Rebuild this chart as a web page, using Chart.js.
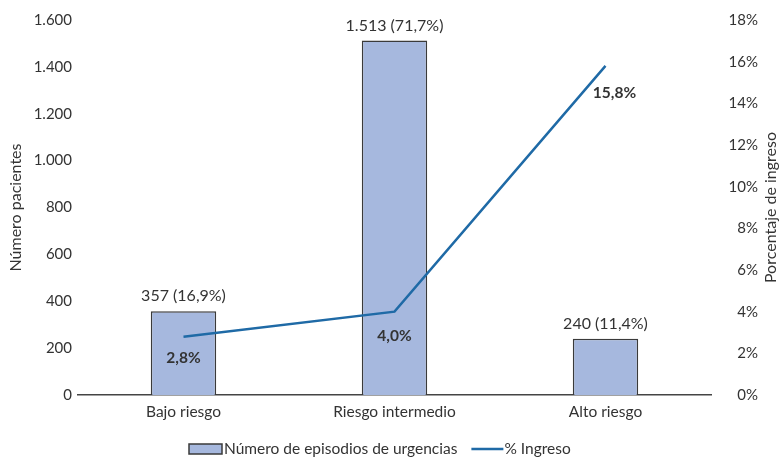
<!DOCTYPE html>
<html>
<head>
<meta charset="utf-8">
<script src="https://cdn.jsdelivr.net/npm/chart.js@4"></script>
<style>
  html, body { margin: 0; padding: 0; background: #fff; }
  #wrap { width: 781px; height: 457px; position: relative; }
</style>
</head>
<body>
<div id="wrap"><canvas id="chart"></canvas></div>
<script>
// Data
const categories = ['Bajo riesgo', 'Riesgo intermedio', 'Alto riesgo'];
const episodios = [357, 1513, 240];
const episodiosPct = ['16,9%', '71,7%', '11,4%'];
const ingresoPct = [2.8, 4.0, 15.8];
const barLabel = 'Número de episodios de urgencias';
const lineLabel = '% Ingreso';

const FONT = 'Lato, "Open Sans", sans-serif';
const TEXT = '#333333';
const BAR_FILL = '#a6b8de';
const BAR_EDGE = '#3a3a3a';
const LINE_COLOR = '#1f6aa6';

// format 1513 -> "1.513", 2.8 -> "2,8"
const fmtInt = (v) => String(Math.round(v)).replace(/\B(?=(\d{3})+(?!\d))/g, '.');
const fmtDec = (v) => v.toFixed(1).replace('.', ',');

// Draws value labels, rotated axis titles and the legend
const decorations = {
    id: 'decorations',
    afterDatasetsDraw(chart) {
        const ctx = chart.ctx;
        const area = chart.chartArea;
        ctx.save();
        ctx.fillStyle = TEXT;
        ctx.textAlign = 'center';
        ctx.textBaseline = 'middle';

        // bar labels
        ctx.font = '16px ' + FONT;
        chart.getDatasetMeta(0).data.forEach((bar, i) => {
            ctx.fillText(fmtInt(episodios[i]) + ' (' + episodiosPct[i] + ')', bar.x, bar.y - 15);
        });

        // line labels (bold, below the points)
        ctx.font = 'bold 15.5px ' + FONT;
        const offs = [[0, 21], [0, 24], [9, 27]];
        chart.getDatasetMeta(1).data.forEach((pt, i) => {
            ctx.fillText(fmtDec(ingresoPct[i]) + '%', pt.x + offs[i][0], pt.y + offs[i][1]);
        });

        // axis titles, both reading bottom to top
        ctx.font = '16px ' + FONT;
        const midY = (area.top + area.bottom) / 2;
        ctx.save();
        ctx.translate(16, midY);
        ctx.rotate(-Math.PI / 2);
        ctx.fillText('Número pacientes', 0, 0);
        ctx.restore();
        ctx.save();
        ctx.translate(771, midY);
        ctx.rotate(-Math.PI / 2);
        ctx.fillText('Porcentaje de ingreso', 0, 0);
        ctx.restore();

        // legend
        const ly = 449;
        ctx.font = '15.5px ' + FONT;
        ctx.textAlign = 'left';
        ctx.fillStyle = BAR_FILL;
        ctx.fillRect(189, ly - 5, 33, 10);
        ctx.strokeStyle = BAR_EDGE;
        ctx.lineWidth = 1.5;
        ctx.strokeRect(189, ly - 5, 33, 10);
        ctx.fillStyle = TEXT;
        ctx.fillText(barLabel, 224, ly);
        const w = ctx.measureText(barLabel).width;
        const lx = 224 + w + 14;
        ctx.strokeStyle = LINE_COLOR;
        ctx.lineWidth = 2.5;
        ctx.beginPath();
        ctx.moveTo(lx, ly);
        ctx.lineTo(lx + 32, ly);
        ctx.stroke();
        ctx.fillText(lineLabel, lx + 33, ly);
        ctx.restore();
    }
};

new Chart(document.getElementById('chart'), {
    data: {
        labels: categories,
        datasets: [
            {
                type: 'bar', label: barLabel, data: episodios, yAxisID: 'y',
                backgroundColor: BAR_FILL, borderColor: BAR_EDGE, borderWidth: 1.5,
                barPercentage: 0.31, categoryPercentage: 1, order: 2
            },
            {
                type: 'line', label: lineLabel, data: ingresoPct, yAxisID: 'y1',
                borderColor: LINE_COLOR, borderWidth: 2.5, pointRadius: 0, tension: 0,
                fill: false, order: 1
            }
        ]
    },
    options: {
        responsive: true, maintainAspectRatio: false, animation: false,
        layout: { padding: { top: 20, left: 0, right: 23, bottom: 0 } },
        plugins: { legend: { display: false }, tooltip: { enabled: false } },
        scales: {
            x: {
                grid: { display: false, drawTicks: false },
                border: { display: true, color: '#444', width: 1.5 },
                ticks: { color: TEXT, font: { family: FONT, size: 15.5 }, padding: 8 },
                afterFit: (s) => { s.height = 62; s.paddingLeft = 0; s.paddingRight = 0; }
            },
            y: {
                position: 'left', min: 0, max: 1600,
                grid: { display: false, drawTicks: false },
                border: { display: false },
                ticks: { stepSize: 200, color: TEXT, font: { family: FONT, size: 15 }, padding: 6, callback: (v) => fmtInt(v) },
                afterFit: (s) => { s.width = 78; s.paddingTop = 0; s.paddingBottom = 0; }
            },
            y1: {
                position: 'right', min: 0, max: 18,
                grid: { display: false, drawTicks: false },
                border: { display: false },
                ticks: {
                    stepSize: 2, color: TEXT, font: { family: FONT, size: 15 }, crossAlign: 'far',
                    callback: (v) => v + '%'
                },
                afterFit: (s) => { s.width = 47; s.paddingTop = 0; s.paddingBottom = 0; }
            }
        }
    },
    plugins: [decorations]
});
</script>
</body>
</html>
